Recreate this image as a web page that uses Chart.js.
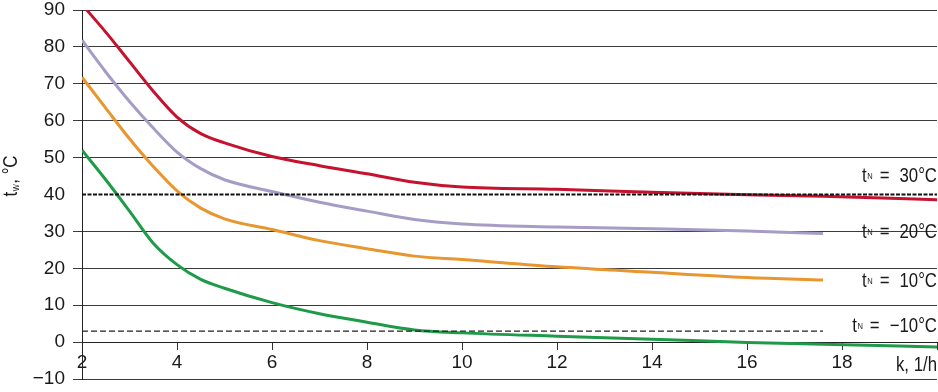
<!DOCTYPE html>
<html><head><meta charset="utf-8">
<script src="https://cdn.jsdelivr.net/npm/chart.js@4.4.0/dist/chart.umd.min.js"></script>
<style>html,body{margin:0;padding:0;background:#fff;}#wrap{width:938px;height:392px;position:relative;}</style>
</head><body><div id="wrap"><canvas id="c" width="938" height="392"></canvas></div>
<script>
// ---- data ----
const kValues = [2, 2.5, 3, 3.5, 4, 4.5, 5, 6, 7, 8, 9, 10, 12, 14, 16, 17.6, 20];
const tw30  = [91.5, 84.0, 76.0, 68.0, 61.0, 56.5, 54.0, 50.3, 47.8, 45.6, 43.3, 42.0, 41.4, 40.6, 39.9, 39.5, 38.6];
const tw20  = [81.8, 73.2, 65.2, 58.0, 51.5, 47.0, 44.0, 40.8, 37.9, 35.5, 33.2, 32.0, 31.2, 30.7, 30.1, 29.4, null];
const tw10  = [71.8, 63.4, 55.1, 47.6, 41.0, 36.3, 33.4, 30.5, 27.5, 25.3, 23.3, 22.4, 20.4, 18.9, 17.5, 16.8, null];
const twM10 = [52.0, 44.0, 35.5, 26.8, 21.0, 17.0, 14.6, 10.7, 7.7, 5.4, 3.3, 2.5, 1.6, 0.8, -0.1, -0.6, -1.3];
const refUpperK = [2, 20];
const refUpper  = [40, 40];
const refLowerK = [2, 17.6];
const refLower  = [3, 3];
const tnTexts   = ['30°C', '20°C', '10°C', '−10°C'];
const tnAnchor  = [43.4, 28.2, 14.9, 2.7];
const xTickLast = 18;
const yTitle    = ['t', 'W', ', °C'];
const xTitle    = 'k, 1/h';

const FONT = "'Liberation Sans', Arial, sans-serif";
const SX = 0.84; // horizontal squeeze to mimic the condensed face
const toXY = (ks, vs) => ks.map((k, i) => ({x: k, y: vs[i]}));

const curve = (data, color) => ({
  data, borderColor: color, borderWidth: 3, pointRadius: 0,
  cubicInterpolationMode: 'monotone', fill: false
});

function txt(ctx, s, x, y, size, align) {
  ctx.save();
  ctx.font = size + 'px ' + FONT;
  const w = ctx.measureText(s).width * SX;
  ctx.translate(align === 'right' ? x - w : x, y);
  ctx.scale(SX, 1);
  ctx.textAlign = 'left';
  ctx.textBaseline = 'alphabetic';
  ctx.fillText(s, 0, 0);
  ctx.restore();
  return w;
}

const textPlugin = {
  id: 'texts',
  afterDraw(chart) {
    const {ctx, chartArea, scales: {x, y}} = chart;
    ctx.save();
    ctx.fillStyle = '#1a1a1a';
    const R = chartArea.right;
    tnTexts.forEach((s, i) => {
      const base = y.getPixelForValue(tnAnchor[i]);
      let xr = R - txt(ctx, s, R, base, 20, 'right') - 10;
      xr -= txt(ctx, '=', xr, base, 20, 'right') + 7;
      xr -= txt(ctx, 'N', xr, base - 3, 9, 'right') + 0.5;
      txt(ctx, 't', xr, base, 20, 'right');
    });
    // x title
    txt(ctx, xTitle, x.getPixelForValue(20), y.getPixelForValue(0) + 29, 20, 'right');
    // y title (rotated)
    ctx.translate(17, 176);
    ctx.rotate(-Math.PI / 2);
    ctx.font = '20px ' + FONT;
    const w1 = ctx.measureText(yTitle[0]).width * SX;
    const w3 = ctx.measureText(yTitle[2]).width * SX;
    ctx.font = '9px ' + FONT;
    const w2 = ctx.measureText(yTitle[1]).width * SX;
    let cx = -(w1 + w2 + w3 + 1) / 2;
    cx += txt(ctx, yTitle[0], cx, 0, 20, 'left') + 0.5;
    cx += txt(ctx, yTitle[1], cx, 2, 9, 'left') + 0.5;
    txt(ctx, yTitle[2], cx, 0, 20, 'left');
    ctx.restore();
  }
};

new Chart(document.getElementById('c'), {
  type: 'line',
  data: {
    datasets: [
      {data: toXY(refUpperK, refUpper), borderColor: '#111', borderWidth: 2, borderDash: [4, 1.5], pointRadius: 0, fill: false},
      {data: toXY(refLowerK, refLower), borderColor: '#222', borderWidth: 1.3, borderDash: [6, 3], pointRadius: 0, fill: false},
      curve(toXY(kValues, twM10), '#1e9a48'),
      curve(toXY(kValues, tw10), '#e8962e'),
      curve(toXY(kValues, tw20), '#a69cc6'),
      curve(toXY(kValues, tw30), '#c4122f')
    ]
  },
  options: {
    responsive: false,
    animation: false,
    devicePixelRatio: 1,
    layout: {padding: {left: 0, right: 1, top: 0, bottom: 0}},
    plugins: {legend: {display: false}, tooltip: {enabled: false}},
    scales: {
      x: {
        type: 'linear', min: 2, max: 20,
        position: {y: 0},
        grid: {drawOnChartArea: false, drawTicks: true, tickLength: 7, color: '#333'},
        border: {display: true, color: '#222', width: 1},
        ticks: {stepSize: 2, padding: 2, autoSkip: false, maxRotation: 0, color: '#1a1a1a',
                font: {family: FONT, size: 19},
                callback: v => v > xTickLast ? '' : String(v)},
        afterFit: s => { s.height = 0; s.paddingLeft = 0; s.paddingRight = 0; }
      },
      y: {
        type: 'linear', min: -10, max: 90,
        grid: {color: c => (c.tick && c.tick.value === 40) ? 'rgba(0,0,0,0)' : '#3a3a3a', lineWidth: 1, tickLength: 9},
        border: {display: true, color: '#222', width: 1},
        ticks: {stepSize: 10, padding: 8, color: '#1a1a1a', font: {family: FONT, size: 19},
                callback: v => v < 0 ? '−' + Math.abs(v) : String(v)},
        afterFit: s => { s.width = 82; s.paddingTop = 10; s.paddingBottom = 13; }
      }
    }
  },
  plugins: [textPlugin]
});
</script>
</body></html>
